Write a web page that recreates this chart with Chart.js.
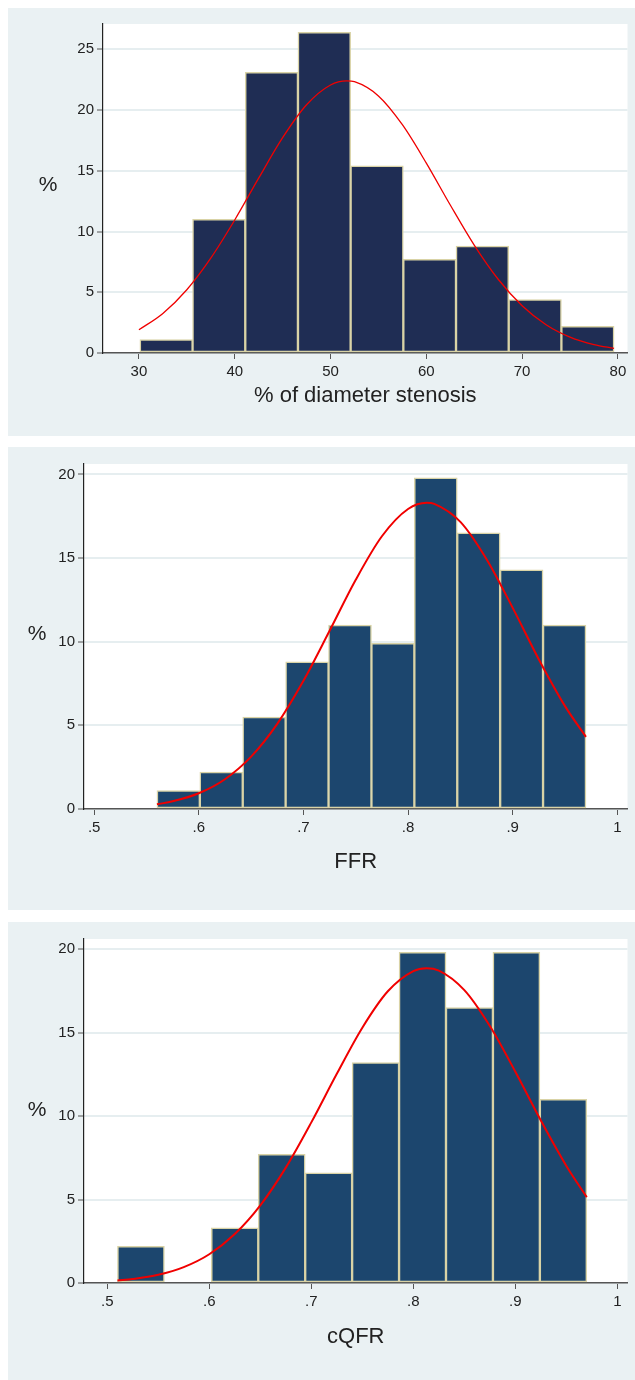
<!DOCTYPE html>
<html>
<head>
<meta charset="utf-8">
<script src="https://cdn.jsdelivr.net/npm/chart.js@4/dist/chart.umd.min.js"></script>
<style>
  body { margin: 0; background: #fff; width: 635px; height: 1380px; position: relative; overflow: hidden; }
  .panel { position: absolute; left: 8px; width: 627px; background: #eaf1f3; }
  .panel canvas { display: block; }
</style>
</head>
<body>
<div class="panel" id="p1" style="top:8px;height:428px"><canvas id="chart1"></canvas></div>
<div class="panel" id="p2" style="top:447px;height:463px"><canvas id="chart2"></canvas></div>
<div class="panel" id="p3" style="top:922px;height:458px"><canvas id="chart3"></canvas></div>
<script>
// --- data ---

// % of diameter stenosis
const stenosisBins = [32.85, 38.35, 43.85, 49.35, 54.85, 60.35, 65.85, 71.35, 76.85];
const stenosisPct = [1.1, 11, 23.1, 26.4, 15.4, 7.7, 8.8, 4.4, 2.2];
const stenosisCurveX = [30, 32.5, 35, 37.5, 40, 42.5, 45, 47.5, 50, 51.7, 52.5, 55, 57.5, 60, 62.5, 65, 67.5, 70, 72.5, 75, 77.5, 79.6];
const stenosisCurveY = [1.91, 3.26, 5.21, 7.81, 10.95, 14.39, 17.72, 20.43, 22.06, 22.4, 22.33, 21.16, 18.79, 15.63, 12.18, 8.88, 6.07, 3.89, 2.33, 1.31, 0.69, 0.38];
const stenosisXTicks = [30, 40, 50, 60, 70, 80];
const stenosisYTicks = [0, 5, 10, 15, 20, 25];

// FFR
const ffrBins = [0.5805, 0.6215, 0.6625, 0.7035, 0.7445, 0.7855, 0.8265, 0.8675, 0.9085, 0.9495];
const ffrPct = [1.1, 2.2, 5.5, 8.8, 11, 9.9, 19.8, 16.5, 14.3, 11];
const ffrCurveX = [0.56, 0.575, 0.6, 0.625, 0.65, 0.675, 0.7, 0.725, 0.75, 0.775, 0.8, 0.818, 0.825, 0.85, 0.875, 0.9, 0.925, 0.95, 0.97];
const ffrCurveY = [0.28, 0.46, 0.94, 1.78, 3.13, 5.09, 7.66, 10.65, 13.7, 16.3, 17.93, 18.3, 18.24, 17.16, 14.93, 12.02, 8.94, 6.15, 4.31];

// cQFR
const cqfrBins = [0.533, 0.579, 0.625, 0.671, 0.717, 0.763, 0.809, 0.855, 0.901, 0.947];
const cqfrPct = [2.2, null, 3.3, 7.7, 6.6, 13.2, 19.8, 16.5, 19.8, 11];
const cqfrCurveX = [0.51, 0.525, 0.55, 0.575, 0.6, 0.625, 0.65, 0.675, 0.7, 0.725, 0.75, 0.775, 0.8, 0.813, 0.825, 0.85, 0.875, 0.9, 0.925, 0.95, 0.97];
const cqfrCurveY = [0.15, 0.24, 0.49, 0.95, 1.72, 2.93, 4.65, 6.91, 9.62, 12.53, 15.29, 17.47, 18.68, 18.85, 18.71, 17.54, 15.39, 12.65, 9.73, 7.01, 5.14];

const ratioXTicks = [0.5, 0.6, 0.7, 0.8, 0.9, 1];
const ratioYTicks = [0, 5, 10, 15, 20];

// --- drawing ---
const FONT = 'Liberation Sans, Arial, sans-serif';
const textColor = '#222';

// white plot region
const plotBg = {
  id: 'plotBg',
  beforeDraw(chart) {
    const {ctx, chartArea: a} = chart;
    ctx.save();
    ctx.fillStyle = '#fff';
    ctx.fillRect(a.left, a.top, a.right - a.left, a.bottom - a.top);
    ctx.restore();
  }
};

// "%" title, upright, left of the y axis
const percentTitle = {
  id: 'percentTitle',
  afterDraw(chart, args, opts) {
    const {ctx, chartArea} = chart;
    ctx.save();
    ctx.font = '21px ' + FONT;
    ctx.fillStyle = textColor;
    ctx.textAlign = 'center';
    ctx.textBaseline = 'middle';
    ctx.fillText('%', opts.x, (chartArea.top + chartArea.bottom) / 2 + opts.dy);
    ctx.restore();
  }
};

function ratioLabel(v) {
  if (v === 1) return '1';
  return String(v).replace(/^0/, '');
}

function makeChart(cfg) {
  const bars = cfg.bins.map((x, i) => ({x: x, y: cfg.pct[i]}));
  const curve = cfg.curveX.map((x, i) => ({x: x, y: cfg.curveY[i]}));

  new Chart(document.getElementById(cfg.id), {
    type: 'bar',
    data: {
      datasets: [
        {
          type: 'line',
          data: curve,
          borderColor: '#f00000',
          borderWidth: cfg.curveW,
          pointRadius: 0,
          cubicInterpolationMode: 'monotone',
          order: 0
        },
        {
          data: bars,
          backgroundColor: cfg.barColor,
          borderColor: '#d9d3a6',
          borderWidth: 1.5,
          borderSkipped: false,
          barPercentage: 1,
          categoryPercentage: 1,
          order: 1
        }
      ]
    },
    options: {
      responsive: true,
      maintainAspectRatio: false,
      animation: false,
      events: [],
      layout: { padding: { top: cfg.padTop, right: 7.5, left: 0, bottom: 0 } },
      plugins: {
        legend: { display: false },
        tooltip: { enabled: false },
        percentTitle: { x: cfg.pctX, dy: cfg.pctDy }
      },
      scales: {
        x: {
          type: 'linear',
          offset: false,
          min: cfg.xMin,
          max: cfg.xMax,
          afterBuildTicks: s => { s.ticks = cfg.xTicks.map(v => ({value: v})); },
          afterFit: s => { s.height = cfg.xAxisH; },
          grid: { display: true, offset: false, drawOnChartArea: false, drawTicks: true, tickLength: 6, tickColor: '#555', tickWidth: 1 },
          border: { display: true, color: '#555', width: 1.5 },
          ticks: {
            autoSkip: false, maxRotation: 0, padding: 4,
            color: textColor,
            font: { family: FONT, size: 15 },
            callback: cfg.xLabel
          },
          title: {
            display: true,
            text: cfg.xTitle,
            color: textColor,
            font: { family: FONT, size: 22 },
            padding: { top: 0, bottom: cfg.titleBottom }
          }
        },
        y: {
          min: 0,
          max: cfg.yMax,
          afterBuildTicks: s => { s.ticks = cfg.yTicks.map(v => ({value: v})); },
          afterFit: s => { s.width = cfg.yAxisW; },
          grid: { color: '#e6eef0', lineWidth: 2, drawTicks: true, tickLength: 6, tickColor: '#555', tickWidth: 1 },
          border: { display: true, color: '#222', width: 1.2 },
          ticks: {
            padding: 3,
            color: textColor,
            font: { family: FONT, size: 15 }
          }
        }
      }
    },
    plugins: [plotBg, percentTitle]
  });
}

makeChart({
  id: 'chart1',
  bins: stenosisBins, pct: stenosisPct,
  curveX: stenosisCurveX, curveY: stenosisCurveY,
  xTicks: stenosisXTicks, yTicks: stenosisYTicks,
  xMin: 26.25, xMax: 81.0, yMax: 27.08,
  barColor: '#1f2d54', curveW: 1.3,
  xTitle: '% of diameter stenosis',
  xLabel: v => String(v),
  padTop: 16, yAxisW: 95, xAxisH: 83, titleBottom: 27,
  pctX: 40, pctDy: -3
});

makeChart({
  id: 'chart2',
  bins: ffrBins, pct: ffrPct,
  curveX: ffrCurveX, curveY: ffrCurveY,
  xTicks: ratioXTicks, yTicks: ratioYTicks,
  xMin: 0.4903, xMax: 1.0097, yMax: 20.62,
  barColor: '#1c466e', curveW: 2,
  xTitle: 'FFR',
  xLabel: ratioLabel,
  padTop: 17, yAxisW: 76, xAxisH: 101, titleBottom: 35,
  pctX: 29, pctDy: -2
});

makeChart({
  id: 'chart3',
  bins: cqfrBins, pct: cqfrPct,
  curveX: cqfrCurveX, curveY: cqfrCurveY,
  xTicks: ratioXTicks, yTicks: ratioYTicks,
  xMin: 0.4772, xMax: 1.0099, yMax: 20.6,
  barColor: '#1c466e', curveW: 2,
  xTitle: 'cQFR',
  xLabel: ratioLabel,
  padTop: 17, yAxisW: 76, xAxisH: 97, titleBottom: 30,
  pctX: 29, pctDy: -1
});
</script>
</body>
</html>
